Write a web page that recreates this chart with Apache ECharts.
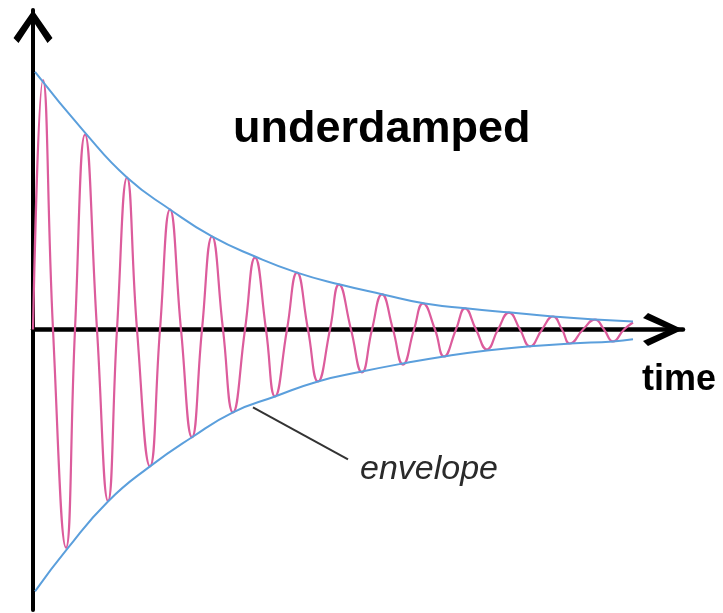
<!DOCTYPE html>
<html>
<head>
<meta charset="utf-8">
<script src="https://cdn.jsdelivr.net/npm/echarts@6/dist/echarts.min.js"></script>
<style>
  html, body { margin: 0; padding: 0; background: #fff; }
  #chart { width: 723px; height: 613px; }
</style>
</head>
<body>
<div id="chart"></div>
<script>
  // values (time units, amplitude units)
  const waveTime = [0, 1.0, 2.0, 3.3, 4.2, 5.2, 6.4, 7.5, 8.4, 9.4, 10.4, 11.7, 12.7, 13.7,
    14.8, 15.9, 16.9, 17.9, 19.0, 20.0, 21.2, 22.2, 23.3, 24.2, 25.4, 26.4, 27.5, 28.5,
    29.7, 30.6, 31.8, 32.9, 33.9, 34.9, 36.0, 37.0, 38.1, 39.0, 40.2, 41.1, 42.3, 43.2,
    44.3, 45.4, 46.5, 47.6, 48.7, 49.7, 50.9, 52.0, 52.9, 53.7, 55.0, 56.2, 57.1, 58.0,
    59.1, 60.0];
  const waveValue = [0, 9.6, 0, -8.4, 0, 7.5, 0, -6.6, 0, 5.85, 0, -5.27, 0, 4.62,
    0, -4.15, 0, 3.58, 0, -3.19, 0, 2.77, 0, -2.58, 0, 2.19, 0, -2.0,
    0, 1.73, 0, -1.65, 0, 1.35, 0, -1.35, 0, 1.0, 0, -1.04, 0, 0.81,
    0, -0.77, 0, 0.65, 0, -0.65, 0, 0.5, 0, -0.54, 0, 0.38, 0, -0.46,
    0, 0.27];

  const upperTime = [0.2, 5.2, 9.4, 13.7, 17.9, 22.2, 26.4, 30.7, 35.0, 39.2, 43.5, 47.8, 52.0, 56.2, 60.0];
  const upperValue = [9.92, 7.58, 5.85, 4.62, 3.58, 2.81, 2.19, 1.73, 1.35, 1.0, 0.81, 0.65, 0.5, 0.38, 0.31];

  const lowerTime = [0.2, 3.4, 7.5, 11.7, 15.9, 20.0, 24.2, 28.5, 32.9, 37.0, 41.1, 45.4, 49.7, 53.7, 58.0, 60.0];
  const lowerValue = [-10.08, -8.46, -6.62, -5.27, -4.15, -3.19, -2.58, -2.0, -1.62, -1.31, -1.04, -0.81, -0.65, -0.54, -0.46, -0.38];

  // leader line from the lower envelope to the label
  const leaderFrom = [22.0, -3.0];
  const leaderTo = [31.5, -5.0];

  const zip = (xs, ys) => xs.map((x, i) => [x, ys[i]]);

  // open arrow heads, drawn pointing up (ECharts turns them along the axis)
  const chevronX = 'path://M16.5 0 L33 35 L28 40 L16.5 14 L5 40 L0 35 Z';
  const chevronY = 'path://M19.5 0 L39 28 L34 33 L19.5 11 L5 33 L0 28 Z';
  const pink = '#dc5c9c';
  const blue = '#5b9fdc';

  const chart = echarts.init(document.getElementById('chart'));

  chart.setOption({
    animation: false,
    grid: { left: 33, right: 40, top: 10, bottom: 3 },
    xAxis: {
      type: 'value',
      min: 0,
      max: 65,
      axisLine: {
        onZero: true,
        lineStyle: { color: '#000', width: 4.5 },
        symbol: ['none', chevronX],
        symbolSize: [33, 40],
        symbolOffset: [0, -20]
      },
      axisTick: { show: false },
      axisLabel: { show: false },
      splitLine: { show: false }
    },
    yAxis: {
      type: 'value',
      min: -10.8,
      max: 12.3,
      axisLine: {
        show: true,
        lineStyle: { color: '#000', width: 4 },
        symbol: ['none', chevronY],
        symbolSize: [39, 33],
        symbolOffset: [0, -16.5]
      },
      axisTick: { show: false },
      axisLabel: { show: false },
      splitLine: { show: false }
    },
    series: [
      {
        type: 'line',
        data: zip(waveTime, waveValue),
        smooth: 0.5,
        showSymbol: false,
        lineStyle: { color: pink, width: 2.2 },
        z: 2
      },
      {
        type: 'line',
        data: zip(upperTime, upperValue),
        smooth: true,
        showSymbol: false,
        lineStyle: { color: blue, width: 2 },
        z: 3
      },
      {
        type: 'line',
        data: zip(lowerTime, lowerValue),
        smooth: true,
        showSymbol: false,
        lineStyle: { color: blue, width: 2 },
        z: 3,
        markLine: {
          silent: true,
          symbol: ['none', 'none'],
          label: { show: false },
          lineStyle: { color: '#333', width: 2, type: 'solid' },
          data: [[{ coord: leaderFrom }, { coord: leaderTo }]]
        }
      }
    ],
    graphic: [
      {
        type: 'text',
        x: 233,
        y: 130,
        style: {
          text: 'underdamped',
          font: 'bold 45px "Liberation Sans", Arial, sans-serif',
          fill: '#000',
          verticalAlign: 'middle'
        }
      },
      {
        type: 'text',
        x: 642,
        y: 380,
        style: {
          text: 'time',
          font: 'bold 36px "Liberation Sans", Arial, sans-serif',
          fill: '#000',
          verticalAlign: 'middle'
        }
      },
      {
        type: 'text',
        x: 360,
        y: 470,
        style: {
          text: 'envelope',
          font: 'italic 34px "Liberation Sans", Arial, sans-serif',
          fill: '#2a2a2a',
          verticalAlign: 'middle'
        }
      }
    ]
  });
</script>
</body>
</html>
